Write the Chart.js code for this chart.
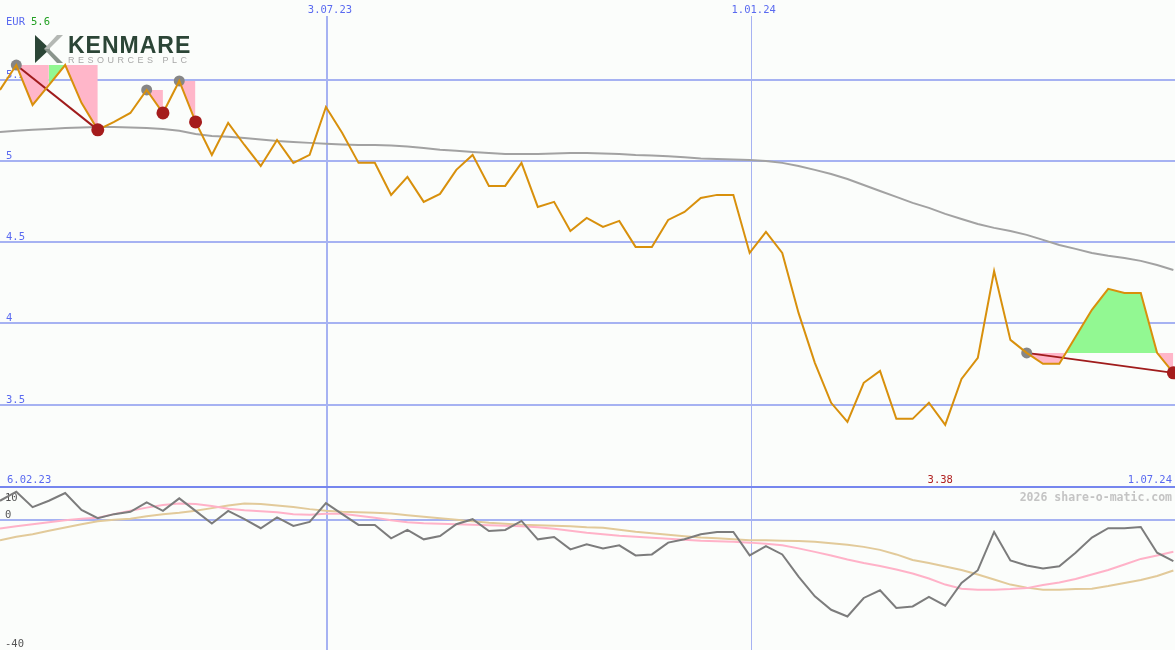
<!DOCTYPE html>
<html>
<head>
<meta charset="utf-8">
<script src="https://cdn.jsdelivr.net/npm/chart.js@4.4.1/dist/chart.umd.min.js"></script>
<style>
  body { margin: 0; background: #fbfdfb; }
  #wrap { position: relative; width: 1175px; height: 650px; overflow: hidden; background: #fbfdfb; }
  #priceChart { position: absolute; left: 0; top: 0; }
  #sep { position: absolute; left: 0; top: 486px; width: 1175px; height: 2px; background: #7686ee; }
  #oscChart { position: absolute; left: 0; top: 488px; }
  .logo { position: absolute; left: 35px; top: 34px; }
  .logo svg { position: absolute; left: 0; top: 1px; }
  .logo .name { position: absolute; left: 33px; top: -2px; font: bold 23px "Liberation Sans", Arial, sans-serif;
    letter-spacing: 1px; color: #2b4536; white-space: nowrap; }
  .logo .sub { position: absolute; left: 33px; top: 21px; font: 9px "Liberation Sans", Arial, sans-serif;
    letter-spacing: 3.5px; color: #a8a8a8; white-space: nowrap; }
</style>
</head>
<body>
<div id="wrap">
  <canvas id="priceChart" width="1175" height="486"></canvas>
  <div id="sep"></div>
  <canvas id="oscChart" width="1175" height="162"></canvas>
  <div class="logo">
    <svg width="29" height="29" viewBox="0 0 29 29">
      <polygon points="0,0 0,28 15,14" fill="#2b4536"/>
      <polygon points="9,14 22,0 28,0 14,14" fill="#b4b8b4"/>
      <polygon points="9,14 14,14 28,28 22,28" fill="#8a948c"/>
    </svg>
    <div class="name">KENMARE</div>
    <div class="sub">RESOURCES PLC</div>
  </div>
</div>
<script>
// weekly closes, 6.02.23 .. 1.07.24
const price = [
  5.437, 5.590, 5.344, 5.467, 5.590, 5.357, 5.191, 5.240, 5.295, 5.437,
  5.295, 5.492, 5.240, 5.037, 5.234, 5.098, 4.969, 5.129, 4.988, 5.037,
  5.332, 5.172, 4.988, 4.988, 4.791, 4.902, 4.748, 4.797, 4.945, 5.037,
  4.846, 4.846, 4.988, 4.717, 4.748, 4.569, 4.649, 4.594, 4.631, 4.471,
  4.471, 4.637, 4.686, 4.772, 4.791, 4.791, 4.434, 4.563, 4.434, 4.065,
  3.758, 3.512, 3.395, 3.635, 3.708, 3.413, 3.413, 3.512, 3.376, 3.659,
  3.788, 4.323, 3.899, 3.819, 3.752, 3.752, 3.918, 4.084, 4.213, 4.188,
  4.188, 3.819, 3.696
];
const avgLine = [
  5.178, 5.185, 5.191, 5.197, 5.203, 5.206, 5.209, 5.209, 5.206, 5.203,
  5.197, 5.185, 5.166, 5.154, 5.148, 5.141, 5.132, 5.123, 5.117, 5.111,
  5.105, 5.101, 5.098, 5.098, 5.095, 5.089, 5.080, 5.068, 5.062, 5.055,
  5.049, 5.043, 5.043, 5.043, 5.046, 5.049, 5.049, 5.046, 5.043, 5.037,
  5.034, 5.028, 5.022, 5.015, 5.012, 5.009, 5.006, 5.000, 4.988, 4.969,
  4.945, 4.920, 4.889, 4.852, 4.815, 4.779, 4.742, 4.711, 4.674, 4.643,
  4.612, 4.588, 4.569, 4.545, 4.514, 4.483, 4.459, 4.434, 4.416, 4.403,
  4.385, 4.360, 4.329
];
const oscGray = [
  6.06, 8.85, 4.10, 6.06, 8.45, 3.26, 0.68, 1.93, 2.64, 5.56,
  2.95, 6.80, 2.95, -0.96, 2.95, 0.37, -2.42, 0.90, -1.71, -0.47,
  5.34, 1.93, -1.40, -1.40, -5.53, -2.95, -5.84, -4.81, -1.18, 0.37,
  -3.26, -2.95, -0.16, -5.84, -5.12, -8.94, -7.39, -8.63, -7.70, -10.81,
  -10.50, -6.86, -5.84, -4.29, -3.57, -3.57, -10.81, -7.92, -10.50, -17.33,
  -23.45, -27.58, -29.66, -23.94, -21.58, -27.05, -26.55, -23.63, -26.34, -19.29,
  -15.37, -3.57, -12.36, -13.91, -14.84, -14.13, -9.97, -5.31, -2.42, -2.42,
  -2.02, -9.97, -12.58
];
const oscPink = [
  -2.52, -1.80, -1.18, -0.56, 0.06, 0.53, 0.84, 1.93, 3.01, 3.94,
  4.72, 5.19, 5.03, 4.41, 3.63, 3.17, 2.86, 2.55, 1.93, 1.77,
  2.08, 2.08, 1.46, 0.84, 0.06, -0.56, -0.87, -1.02, -1.18, -1.34,
  -1.49, -1.65, -1.80, -2.11, -2.58, -3.20, -3.82, -4.29, -4.75, -5.06,
  -5.37, -5.68, -5.99, -6.30, -6.46, -6.61, -6.86, -7.24, -7.70, -8.63,
  -9.72, -10.81, -12.05, -13.14, -14.07, -15.16, -16.40, -17.95, -19.81, -21.06,
  -21.37, -21.37, -21.21, -20.90, -19.97, -19.19, -18.11, -16.71, -15.31, -13.60,
  -11.89, -10.81, -9.66
];
const oscTan = [
  -6.15, -5.06, -4.29, -3.20, -2.20, -1.18, -0.25, 0.22, 0.53, 1.30,
  1.93, 2.39, 3.01, 3.79, 4.57, 5.25, 5.03, 4.57, 4.10, 3.48,
  3.01, 2.70, 2.55, 2.39, 2.14, 1.61, 1.15, 0.68, 0.22, -0.25,
  -0.71, -1.02, -1.34, -1.49, -1.65, -1.80, -2.11, -2.27, -2.89, -3.51,
  -3.98, -4.44, -4.91, -5.31, -5.53, -5.84, -6.15, -6.15, -6.30, -6.37,
  -6.61, -7.08, -7.55, -8.17, -9.10, -10.50, -12.20, -13.14, -14.22, -15.31,
  -16.71, -18.26, -19.81, -20.75, -21.37, -21.37, -21.21, -21.06, -20.28, -19.35,
  -18.42, -17.17, -15.47
];

// swing marks (week index) and the boxes between them
const highIdx = [1, 9, 11, 63];
const lowIdx = [6, 10, 12, 72];
const trendPairs = [[1, 6], [63, 72]];
const greenSpan = [3, 4];

const priceTicks = [3.5, 4, 4.5, 5, 5.5];
const oscTicks = [10, 0, -40];
const oscLines = [0];
const dateTickPos = [20, 46];
const dateTickLabels = ['3.07.23', '1.01.24'];
const startLabel = '6.02.23';
const endLabel = '1.07.24';
const currency = 'EUR';
const maxLabel = '5.6';
const minLabel = '3.38';
const minIdx = 58;
const watermark = '2026 share-o-matic.com';

const PINK = '#ffb6c9';
const GREEN = '#92f892';
const GRID = '#a6b2f2';
const LABEL = '#5a6af0';
const MONO = '"DejaVu Sans Mono", monospace';

const pts = (arr, from = 0) => arr.map((v, i) => ({ x: from + i, y: v }));

function box(from, to, level, above, below) {
  return {
    data: pts(price.slice(from, to + 1), from),
    borderWidth: 0, pointRadius: 0, borderColor: 'rgba(0,0,0,0)',
    fill: { target: { value: level }, above: above, below: below },
    order: 9
  };
}

const boxes = [];
highIdx.forEach((h, i) => {
  const l = lowIdx[i], lvl = price[h];
  if (h === 1) {
    boxes.push(box(h, greenSpan[0], lvl, PINK, PINK));
    boxes.push(box(greenSpan[0], greenSpan[1], lvl, GREEN, GREEN));
    boxes.push(box(greenSpan[1], l, lvl, PINK, PINK));
  } else {
    boxes.push(box(h, l, lvl, GREEN, PINK));
  }
});

const trends = trendPairs.map(([a, b]) => ({
  data: [{ x: a, y: price[a] }, { x: b, y: price[b] }],
  borderColor: '#a01c1c', borderWidth: 2, pointRadius: 0, fill: false, order: 6
}));

const priceDecor = {
  id: 'priceDecor',
  beforeDatasetsDraw(chart) {
    const { ctx, scales: { x, y }, width, height } = chart;
    ctx.save();
    ctx.strokeStyle = GRID;
    ctx.lineWidth = 2;
    priceTicks.forEach(v => {
      const py = Math.round(y.getPixelForValue(v));
      ctx.beginPath(); ctx.moveTo(0, py); ctx.lineTo(width, py); ctx.stroke();
    });
    dateTickPos.forEach((k, i) => {
      const w = i === 0 ? 2 : 1;
      const px = Math.round(x.getPixelForValue(k)) + 1 + (w === 1 ? 0.5 : 0);
      ctx.lineWidth = w;
      ctx.beginPath(); ctx.moveTo(px, 16); ctx.lineTo(px, height); ctx.stroke();
    });

    ctx.font = '10.5px ' + MONO;
    ctx.textBaseline = 'alphabetic';
    ctx.fillStyle = LABEL;
    ctx.textAlign = 'left';
    priceTicks.forEach(v => ctx.fillText(String(v), 6, Math.round(y.getPixelForValue(v)) - 2));
    ctx.fillText(currency, 6, 25);
    ctx.fillText(startLabel, 7, height - 3);
    ctx.fillStyle = '#22a022';
    ctx.fillText(maxLabel, 31, 25);
    ctx.textAlign = 'center';
    ctx.fillStyle = LABEL;
    dateTickPos.forEach((k, i) => ctx.fillText(dateTickLabels[i], x.getPixelForValue(k) + 4, 13));
    ctx.fillStyle = '#b02020';
    ctx.fillText(minLabel, x.getPixelForValue(minIdx) - 5, height - 3);
    ctx.textAlign = 'right';
    ctx.fillStyle = LABEL;
    ctx.fillText(endLabel, width - 3, height - 3);
    ctx.restore();
  }
};

const oscDecor = {
  id: 'oscDecor',
  beforeDatasetsDraw(chart) {
    const { ctx, scales: { x, y }, width, height } = chart;
    ctx.save();
    ctx.strokeStyle = GRID;
    ctx.lineWidth = 2;
    oscLines.forEach(v => {
      const py = Math.round(y.getPixelForValue(v));
      ctx.beginPath(); ctx.moveTo(0, py); ctx.lineTo(width, py); ctx.stroke();
    });
    dateTickPos.forEach((k, i) => {
      const w = i === 0 ? 2 : 1;
      const px = Math.round(x.getPixelForValue(k)) + 1 + (w === 1 ? 0.5 : 0);
      ctx.lineWidth = w;
      ctx.beginPath(); ctx.moveTo(px, 0); ctx.lineTo(px, height); ctx.stroke();
    });
    ctx.font = 'bold 11.5px ' + MONO;
    ctx.fillStyle = '#c4c4c4';
    ctx.textAlign = 'right';
    ctx.fillText(watermark, width - 3, 13);
    ctx.font = '10.5px ' + MONO;
    ctx.fillStyle = '#555555';
    ctx.textAlign = 'left';
    oscTicks.forEach(v => {
      const py = Math.min(Math.max(y.getPixelForValue(v) - 2, 13), height - 3);
      ctx.fillText(String(v), 5, py);
    });
    ctx.restore();
  }
};

const xScale = { type: 'linear', min: 0, max: 72.1, display: false };
const common = {
  responsive: false, animation: false, devicePixelRatio: 1,
  layout: { padding: 0, autoPadding: false },
  plugins: { legend: { display: false }, tooltip: { enabled: false } },
  elements: { line: { tension: 0 } }
};

new Chart(document.getElementById('priceChart'), {
  type: 'line',
  data: {
    datasets: [
      ...boxes,
      { data: pts(avgLine), borderColor: '#a2a2a2', borderWidth: 2, pointRadius: 0, fill: false, order: 8 },
      ...trends,
      { data: highIdx.map(k => ({ x: k, y: price[k] })), showLine: false, pointRadius: 5.5,
        pointBackgroundColor: '#868686', pointBorderWidth: 0, order: 4 },
      { data: pts(price), borderColor: '#d8900c', borderWidth: 2, pointRadius: 0, fill: false, order: 2 },
      { data: lowIdx.map(k => ({ x: k, y: price[k] })), showLine: false, pointRadius: 6.5,
        pointBackgroundColor: '#a51c1c', pointBorderWidth: 0, order: 1 }
    ]
  },
  options: {
    ...common,
    scales: { x: xScale, y: { min: 3.0, max: 5.99, display: false } }
  },
  plugins: [priceDecor]
});

new Chart(document.getElementById('oscChart'), {
  type: 'line',
  data: {
    datasets: [
      { data: pts(oscTan), borderColor: '#e2ca9a', borderWidth: 2, pointRadius: 0, fill: false, order: 3 },
      { data: pts(oscPink), borderColor: '#ffb2c8', borderWidth: 2, pointRadius: 0, fill: false, order: 2 },
      { data: pts(oscGray), borderColor: '#7c7c7c', borderWidth: 2, pointRadius: 0, fill: false, order: 1 }
    ]
  },
  options: {
    ...common,
    scales: { x: xScale, y: { min: -40, max: 10, display: false } }
  },
  plugins: [oscDecor]
});
</script>
</body>
</html>
